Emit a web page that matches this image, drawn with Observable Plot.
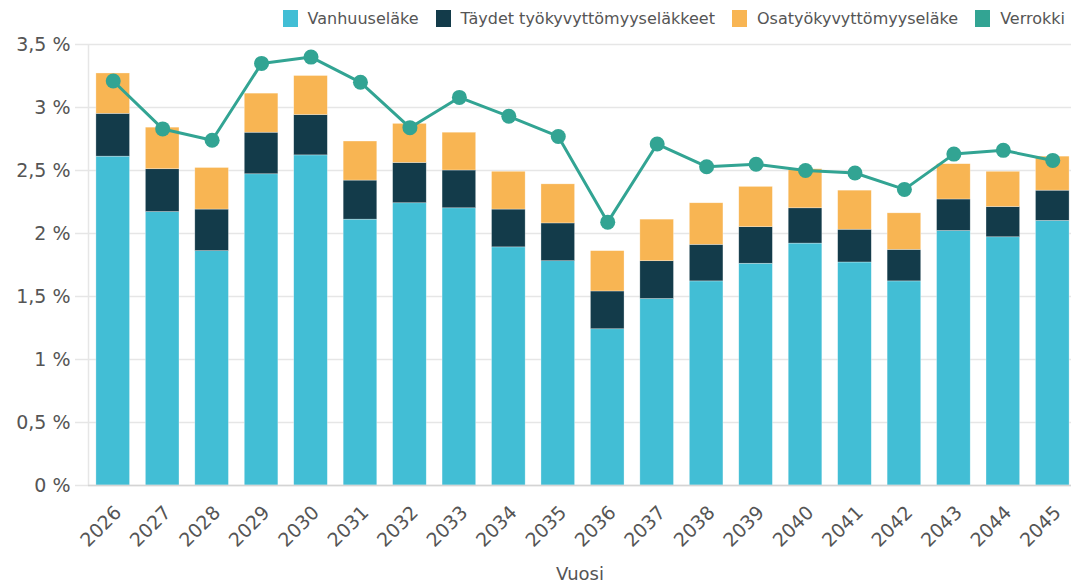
<!DOCTYPE html>
<html>
<head>
<meta charset="utf-8">
<script src="https://cdn.jsdelivr.net/npm/d3@7"></script>
<script src="https://cdn.jsdelivr.net/npm/@observablehq/plot@0.6"></script>
<style>
  html, body { margin: 0; padding: 0; background: #fff; }
  #wrap { position: relative; width: 1071px; height: 585px; font-family: "DejaVu Sans", Verdana, sans-serif; }
  #legend { position: absolute; top: 9px; right: 6px; display: flex; gap: 17px; font-size: 16px; color: #555; z-index: 2; }
  #legend .item { display: flex; align-items: center; gap: 10px; }
  #legend .sw { width: 15px; height: 17px; display: inline-block; }
  #wrap svg { position: absolute; left: 0; top: 0; }
</style>
</head>
<body>
<div id="wrap"><div id="legend"></div></div>
<script>
const years = ["2026","2027","2028","2029","2030","2031","2032","2033","2034","2035","2036","2037","2038","2039","2040","2041","2042","2043","2044","2045"];
const vanhuuselake = [2.61,2.17,1.86,2.47,2.62,2.11,2.24,2.20,1.89,1.78,1.24,1.48,1.62,1.76,1.92,1.77,1.62,2.02,1.97,2.10];
const taydet = [0.34,0.34,0.33,0.33,0.32,0.31,0.32,0.30,0.30,0.30,0.30,0.30,0.29,0.29,0.28,0.26,0.25,0.25,0.24,0.24];
const osatyo = [0.32,0.33,0.33,0.31,0.31,0.31,0.31,0.30,0.30,0.31,0.32,0.33,0.33,0.32,0.31,0.31,0.29,0.28,0.28,0.27];
const verrokki = [3.21,2.83,2.74,3.35,3.40,3.20,2.84,3.08,2.93,2.77,2.09,2.71,2.53,2.55,2.50,2.48,2.35,2.63,2.66,2.58];
const seriesNames = ["Vanhuuseläke","Täydet työkyvyttömyyseläkkeet","Osatyökyvyttömyyseläke","Verrokki"];
const seriesColors = ["#42bed5","#133b4a","#f8b553","#32a493"];
const yTicks = [0,0.5,1,1.5,2,2.5,3,3.5];

const stacked = [];
years.forEach((y, i) => {
  stacked.push({year: y, series: seriesNames[0], value: vanhuuselake[i]});
  stacked.push({year: y, series: seriesNames[1], value: taydet[i]});
  stacked.push({year: y, series: seriesNames[2], value: osatyo[i]});
});
const line = years.map((y, i) => ({year: y, value: verrokki[i]}));

const xRange = [88, 1077];
const pad = 0.32;
const step = (xRange[1] - xRange[0]) / (years.length - pad + 2 * (pad / 2));

const fmt = v => String(v).replace(".", ",") + " %";
const textColor = "#555";

const chart = Plot.plot({
  width: 1071,
  height: 585,
  marginTop: 44,
  marginBottom: 100,
  marginLeft: 88,
  marginRight: 0,
  style: {fontFamily: "'DejaVu Sans', Verdana, sans-serif", background: "transparent", overflow: "visible"},
  x: {domain: years, range: xRange, round: false, paddingInner: pad, paddingOuter: pad / 2, label: null},
  y: {domain: [0, 3.5], label: null},
  color: {domain: seriesNames, range: seriesColors},
  marks: [
    Plot.gridY(yTicks, {stroke: "#e6e6e6", strokeOpacity: 1, strokeWidth: 1.5}),
    Plot.axisY(yTicks, {tickSize: 13, tickPadding: 5, stroke: "#e6e6e6", strokeOpacity: 1, strokeWidth: 1.5, fill: textColor, fontSize: 19, tickFormat: fmt, label: null}),
    Plot.ruleX([years[0]], {x: d => d, dx: -step / 2, stroke: "#e6e6e6", strokeWidth: 1.5}),
    Plot.barY(stacked, {x: "year", y: "value", fill: "series", stroke: "#ffffff", strokeWidth: 0.6, strokeOpacity: 0.5}),
    Plot.ruleY([0], {stroke: "#d4d4d4", strokeWidth: 1.5}),
    Plot.axisX({tickRotate: -45, tickSize: 0, tickPadding: 24, dx: 5, fill: textColor, fontSize: 19, label: null}),
    Plot.text(["Vuosi"], {frameAnchor: "bottom", text: d => d, dy: 94, fill: textColor, fontSize: 18}),
    Plot.lineY(line, {x: "year", y: "value", stroke: seriesColors[3], strokeWidth: 3}),
    Plot.dot(line, {x: "year", y: "value", r: 7.5, fill: seriesColors[3]})
  ]
});
document.getElementById("wrap").appendChild(chart);

const legend = document.getElementById("legend");
seriesNames.forEach((n, i) => {
  const it = document.createElement("div");
  it.className = "item";
  const sw = document.createElement("span");
  sw.className = "sw";
  sw.style.background = seriesColors[i];
  const t = document.createElement("span");
  t.textContent = n;
  it.appendChild(sw); it.appendChild(t);
  legend.appendChild(it);
});
</script>
</body>
</html>
